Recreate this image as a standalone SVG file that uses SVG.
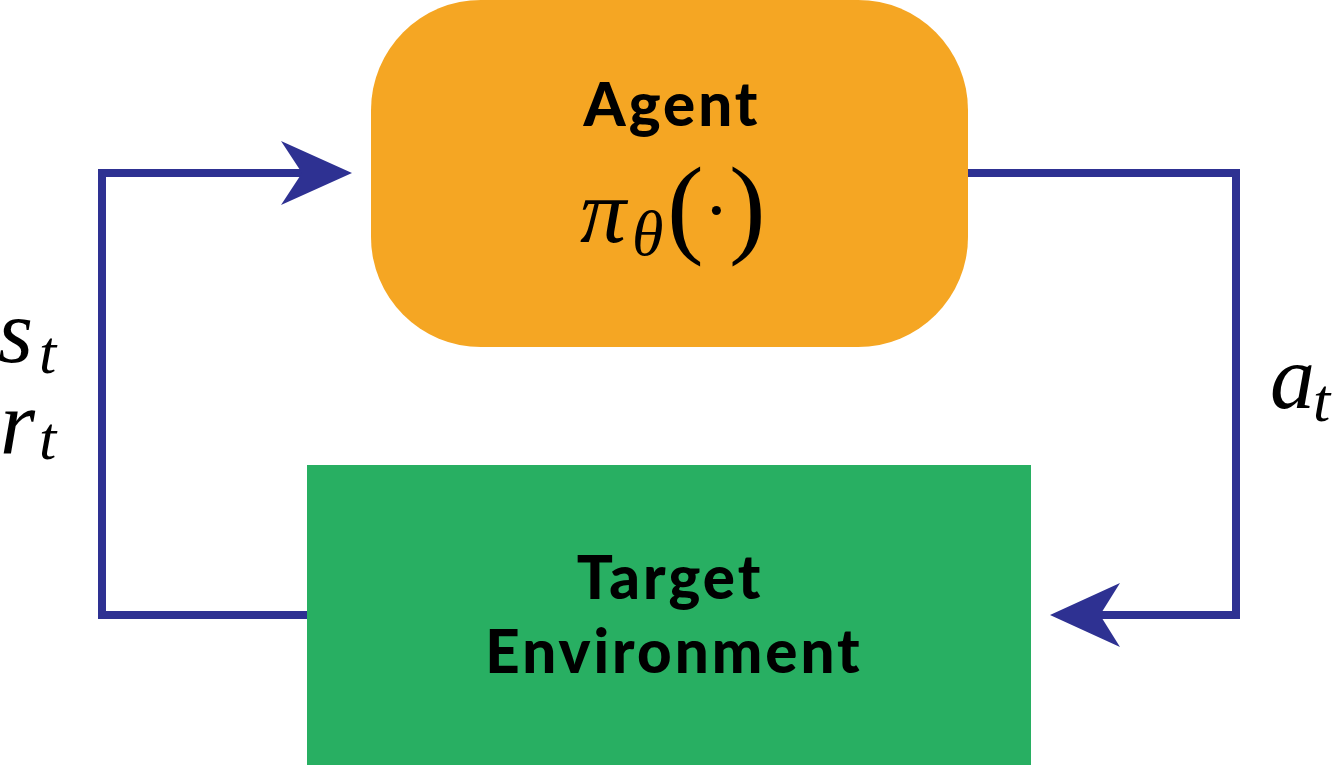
<svg xmlns="http://www.w3.org/2000/svg" width="1340" height="765" viewBox="0 0 1340 765">
<style>
.lbl{font-family:Lato,"Liberation Sans",sans-serif;font-weight:900;fill:#000;text-anchor:middle;font-size:60px;letter-spacing:3px}
.m{font-family:"Liberation Serif","DejaVu Serif",serif;font-style:italic;fill:#000}
.r{font-style:normal}
.wire{fill:none;stroke:#2E3192;stroke-width:8;stroke-linejoin:miter}
.head{fill:#2E3192}
</style>
<rect width="1340" height="765" fill="#fff"/>
<g id="connectors">
<polyline class="wire" points="307,615 102,615 102,173 310,173"/>
<polygon class="head" points="352,173 281,141 302,173 281,205"/>
<polyline class="wire" points="968,173 1236,173 1236,615 1095,615"/>
<polygon class="head" points="1050,615 1120,583 1100,615 1120,647"/>
</g>
<g id="agent">
<rect x="371" y="0" width="597" height="347" rx="110" ry="110" fill="#F5A623"/>
<text class="lbl" x="672" y="126">Agent</text>
<text class="m" font-size="92"><tspan x="580" y="242">π</tspan><tspan x="632" y="255" font-size="64">θ</tspan><tspan class="r" x="667" y="243" font-size="110">(<tspan font-size="76" dy="-7">·</tspan><tspan dy="7">)</tspan></tspan></text>
</g>
<g id="environment">
<rect x="307" y="465" width="724" height="300" fill="#28AF62"/>
<text class="lbl" x="670" y="599">Target</text>
<text class="lbl" x="674" y="673">Environment</text>
</g>
<g id="labels">
<text class="m" font-size="90"><tspan x="-2" y="362">s</tspan><tspan x="39" y="373" font-size="62">t</tspan></text>
<text class="m" font-size="90"><tspan x="0" y="453">r</tspan><tspan x="39" y="459" font-size="62">t</tspan></text>
<text class="m" font-size="90"><tspan x="1270" y="408">a</tspan><tspan x="1313" y="421" font-size="62">t</tspan></text>
</g>
</svg>
